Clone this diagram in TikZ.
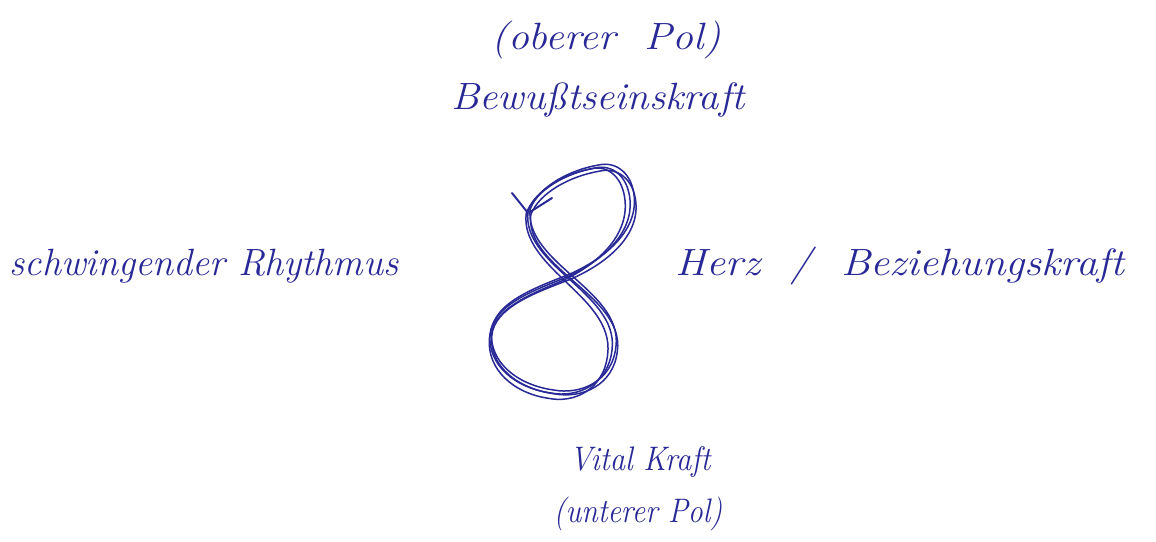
\documentclass[tikz,border=0pt]{standalone}
\usepackage{fontspec}
\definecolor{ink}{RGB}{40,40,150}
\tikzset{
  label/.style={text=ink, font=\fontsize{38}{42}\selectfont\itshape, inner sep=0pt, anchor=center},
  small label/.style={label, font=\fontsize{34}{40}\selectfont\itshape},
  stroke/.style={draw=ink, line width=1.5pt, line cap=round, line join=round}
}
\begin{document}
\begin{tikzpicture}[x=1pt,y=-1pt]
\useasboundingbox (0,0) rectangle (1156,541);
\fill[white] (0,0) rectangle (1156,541);

% labels
\node[label] (oben) at (606,40) {\scalebox{1.1}[1]{(oberer\ \ Pol)}};
\node[label] (bew) at (598,100) {\scalebox{1.07}[1]{Bewußtseinskraft}};
\node[label] (links) at (204,266) {schwingender Rhythmus};
\node[label] (rechts) at (900,266) {\scalebox{1.12}[1]{Herz\ \ /\ \ Beziehungskraft}};
\node[small label] (vital) at (640,462) {\scalebox{0.9}[1]{Vital Kraft}};
\node[small label] (unten) at (638,514) {\scalebox{0.88}[1]{(unterer Pol)}};

% the figure eight, traced several times by hand
\foreach \dx/\dy/\sx/\sy in {0/0/1/1, 4/2/1.03/0.99, -3/3/0.97/1.02, 3/-3/1.02/1.0}{
  \begin{scope}[shift={(\dx,\dy)}, xshift=567pt, yshift=-277pt, xscale=\sx, yscale=\sy, xshift=-567pt, yshift=277pt]
  \draw[stroke] (528,212)
    .. controls (525,237) and (545,257) .. (567,277)
    .. controls (590,298) and (616,320) .. (612,350)
    .. controls (608,385) and (577,398) .. (551,393)
    .. controls (515,388) and (488,365) .. (490,335)
    .. controls (492,305) and (535,290) .. (567,277)
    .. controls (600,262) and (633,235) .. (630,200)
    .. controls (628,176) and (612,164) .. (595,168)
    .. controls (566,173) and (536,190) .. (528,212);
  \end{scope}
}
% arrowhead
\draw[stroke, line width=2pt] (512,193) -- (528,213);
\draw[stroke, line width=2pt] (552,198) -- (530,212);
\end{tikzpicture}
\end{document}
